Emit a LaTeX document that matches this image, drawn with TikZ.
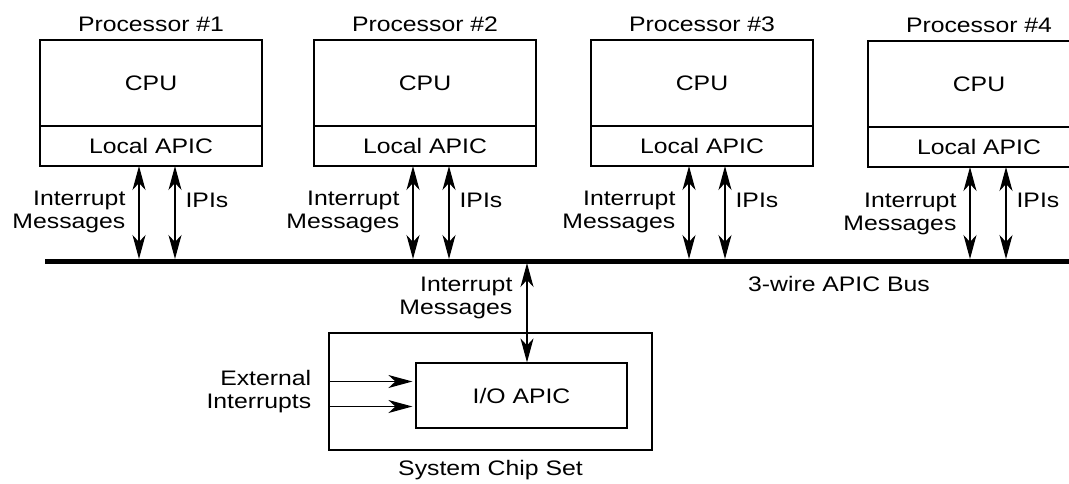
\documentclass[tikz,border=0pt]{standalone}
\usepackage{fontspec}
\setmainfont{Liberation Sans}[FakeStretch=1.18]
\usepackage{tikz}
\usetikzlibrary{arrows.meta, positioning}
\newcommand{\diagfont}{\fontsize{21}{23}\selectfont}

\begin{document}
\begin{tikzpicture}[x=1pt, y=-1pt,
  cpubox/.style={rectangle, draw, line width=1.2pt, outer sep=0pt, inner sep=0pt,
    minimum width=222pt, minimum height=86pt, font=\diagfont},
  apicbox/.style={rectangle, draw, line width=1.2pt, outer sep=0pt, inner sep=0pt,
    minimum width=222pt, minimum height=40pt, font=\diagfont},
  lbl/.style={inner sep=0pt, font=\diagfont},
  link/.style={{Stealth[length=24pt, width=13pt, inset=7pt]}-{Stealth[length=24pt, width=13pt, inset=7pt]}, line width=1.2pt},
  feed/.style={-{Stealth[length=24pt, width=13pt, inset=7pt]}, line width=1.2pt},
  bus/.style={line width=5pt}
]
  \useasboundingbox (0,0) rectangle (1069,483);
  \clip (0,0) rectangle (1069,483);

  % processors
  \node[cpubox] (cpu1) at (151,83) {CPU};
  \node[cpubox] (cpu2) at (425,83) {CPU};
  \node[cpubox] (cpu3) at (702,83) {CPU};
  \node[cpubox] (cpu4) at (979,84) {CPU};
  \node[apicbox, below=0pt of cpu1] (lapic1) {Local APIC};
  \node[apicbox, below=0pt of cpu2] (lapic2) {Local APIC};
  \node[apicbox, below=0pt of cpu3] (lapic3) {Local APIC};
  \node[apicbox, below=0pt of cpu4] (lapic4) {Local APIC};
  \node[lbl, above=8pt of cpu1] (proc1) {Processor \#1};
  \node[lbl, above=8pt of cpu2] (proc2) {Processor \#2};
  \node[lbl, above=8pt of cpu3] (proc3) {Processor \#3};
  \node[lbl, above=8pt of cpu4] (proc4) {Processor \#4};

  % bus
  \coordinate (busL) at (45,261);
  \coordinate (busR) at (1075,261);
  \draw[bus] (busL) -- (busR);
  \node[lbl] (buslbl) at (839,284) {3-wire APIC Bus};

  \draw[link, shorten >=2pt] ([xshift=-12pt]lapic1.south) -- ([xshift=-12pt]lapic1.south |- busL)
    node[lbl, pos=0.48, left=13pt, align=right] {Interrupt\\Messages};
  \draw[link, shorten >=2pt] ([xshift=24pt]lapic1.south) -- ([xshift=24pt]lapic1.south |- busL)
    node[lbl, pos=0.36, right=10pt] {IPIs};
  \draw[link, shorten >=2pt] ([xshift=-12pt]lapic2.south) -- ([xshift=-12pt]lapic2.south |- busL)
    node[lbl, pos=0.48, left=13pt, align=right] {Interrupt\\Messages};
  \draw[link, shorten >=2pt] ([xshift=24pt]lapic2.south) -- ([xshift=24pt]lapic2.south |- busL)
    node[lbl, pos=0.36, right=10pt] {IPIs};
  \draw[link, shorten >=2pt] ([xshift=-13pt]lapic3.south) -- ([xshift=-13pt]lapic3.south |- busL)
    node[lbl, pos=0.48, left=13pt, align=right] {Interrupt\\Messages};
  \draw[link, shorten >=2pt] ([xshift=23pt]lapic3.south) -- ([xshift=23pt]lapic3.south |- busL)
    node[lbl, pos=0.36, right=10pt] {IPIs};
  \draw[link, shorten >=2pt] ([xshift=-9pt]lapic4.south) -- ([xshift=-9pt]lapic4.south |- busL)
    node[lbl, pos=0.5, left=13pt, align=right] {Interrupt\\Messages};
  \draw[link, shorten >=2pt] ([xshift=27pt]lapic4.south) -- ([xshift=27pt]lapic4.south |- busL)
    node[lbl, pos=0.36, right=10pt] {IPIs};

  % chip set
  \node[draw, line width=1.2pt, inner sep=0pt, minimum width=323pt, minimum height=117pt] (chip) at (490.5,391.5) {};
  \node[draw, line width=1.2pt, inner sep=0pt, minimum width=211pt, minimum height=65pt, font=\diagfont] (ioapic) at (521.5,395.5) {I/O APIC};
  \node[lbl, below=9pt of chip] (chiplbl) {System Chip Set};
  \node[lbl, align=right, left=17pt of chip.west] (extlbl) {External\\Interrupts};

  \coordinate (iotap) at (527,261);
  \draw[link, shorten <=2pt] (iotap) -- (iotap |- ioapic.north)
    node[lbl, pos=0.36, left=14pt, align=right] {Interrupt\\Messages};
  \draw[feed, shorten >=3pt] ([yshift=10pt]chip.west) -- ([yshift=10pt]chip.west -| ioapic.west);
  \draw[feed, shorten >=3pt] ([yshift=-15pt]chip.west) -- ([yshift=-15pt]chip.west -| ioapic.west);
\end{tikzpicture}
\end{document}
